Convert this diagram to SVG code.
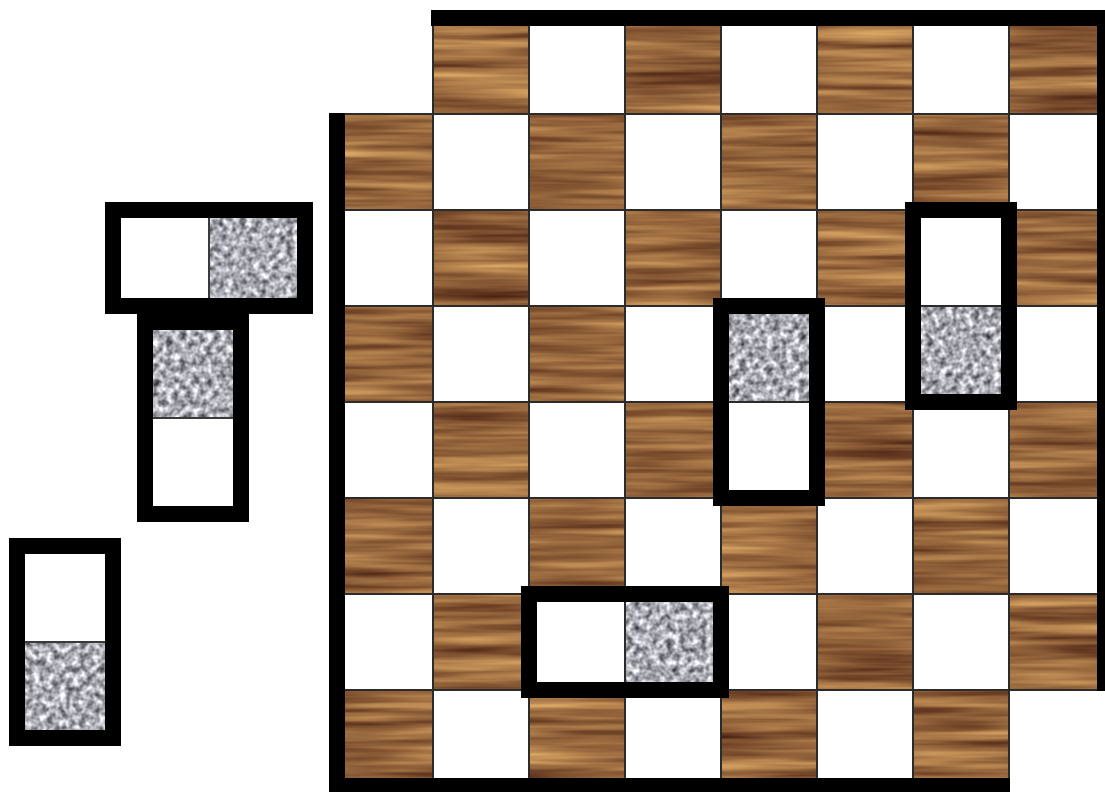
<svg xmlns="http://www.w3.org/2000/svg" width="1105" height="792" viewBox="0 0 1105 792">
<style>
.wood{fill:#000}
.granite{fill:#000}
.grid{stroke:#2b2b2b;stroke-width:2;fill:none}
.border{fill:#000}
.domino{fill:none;stroke:#000;stroke-width:16}
.divider{stroke:#3a3a3a;stroke-width:2}
</style>
<defs>
<filter id="woodTex" filterUnits="userSpaceOnUse" x="0" y="0" width="1105" height="792" color-interpolation-filters="sRGB">
<feTurbulence type="fractalNoise" baseFrequency="0.005 0.1" numOctaves="3" seed="4" result="n"/>
<feColorMatrix in="n" type="matrix" values="0.7 0 0 0 0.24  0.65 0 0 0 0.08  0.4 0 0 0 0.04  0 0 0 0 1" result="c"/>
<feComposite in="c" in2="SourceGraphic" operator="in"/>
</filter>
<filter id="graniteTex" filterUnits="userSpaceOnUse" x="0" y="0" width="1105" height="792" color-interpolation-filters="sRGB">
<feTurbulence type="fractalNoise" baseFrequency="0.15" numOctaves="2" seed="9" result="n"/>
<feColorMatrix in="n" type="matrix" values="1.2 0 0 0 0.07  1.2 0 0 0 0.07  1.2 0 0 0 0.1  0 0 0 0 1" result="c"/>
<feComposite in="c" in2="SourceGraphic" operator="in"/>
</filter>
</defs>
<rect width="1105" height="792" fill="#fff"/>

<g id="board">
<g id="wood-cells" filter="url(#woodTex)">
<rect class="wood" x="433" y="18" width="96" height="96"/>
<rect class="wood" x="625" y="18" width="96" height="96"/>
<rect class="wood" x="817" y="18" width="96" height="96"/>
<rect class="wood" x="1009" y="18" width="96" height="96"/>
<rect class="wood" x="337" y="114" width="96" height="96"/>
<rect class="wood" x="529" y="114" width="96" height="96"/>
<rect class="wood" x="721" y="114" width="96" height="96"/>
<rect class="wood" x="913" y="114" width="96" height="96"/>
<rect class="wood" x="433" y="210" width="96" height="96"/>
<rect class="wood" x="625" y="210" width="96" height="96"/>
<rect class="wood" x="817" y="210" width="96" height="96"/>
<rect class="wood" x="1009" y="210" width="96" height="96"/>
<rect class="wood" x="337" y="306" width="96" height="96"/>
<rect class="wood" x="529" y="306" width="96" height="96"/>
<rect class="wood" x="433" y="402" width="96" height="96"/>
<rect class="wood" x="625" y="402" width="96" height="96"/>
<rect class="wood" x="817" y="402" width="96" height="96"/>
<rect class="wood" x="1009" y="402" width="96" height="96"/>
<rect class="wood" x="337" y="498" width="96" height="96"/>
<rect class="wood" x="529" y="498" width="96" height="96"/>
<rect class="wood" x="721" y="498" width="96" height="96"/>
<rect class="wood" x="913" y="498" width="96" height="96"/>
<rect class="wood" x="433" y="594" width="96" height="96"/>
<rect class="wood" x="817" y="594" width="96" height="96"/>
<rect class="wood" x="1009" y="594" width="96" height="96"/>
<rect class="wood" x="337" y="690" width="96" height="96"/>
<rect class="wood" x="529" y="690" width="96" height="96"/>
<rect class="wood" x="721" y="690" width="96" height="96"/>
<rect class="wood" x="913" y="690" width="96" height="96"/>
</g>
<g id="granite-cells" filter="url(#graniteTex)">
<rect class="granite" x="721" y="306" width="96" height="96"/>
<rect class="granite" x="913" y="306" width="96" height="96"/>
<rect class="granite" x="625" y="594" width="96" height="96"/>
<rect class="granite" x="209" y="210" width="96" height="96"/>
<rect class="granite" x="145" y="322" width="96" height="96"/>
<rect class="granite" x="17" y="642" width="96" height="96"/>
</g>
<path class="grid" d="M337 114H1105M337 210H1105M337 306H1105M337 402H1105M337 498H1105M337 594H1105M337 690H1105M433 18V786M529 18V786M625 18V786M721 18V786M817 18V786M913 18V786M1009 18V786"/>
<g id="board-border">
<rect class="border" x="431" y="10" width="682" height="16"/>
<rect class="border" x="1097" y="10" width="16" height="681"/>
<rect class="border" x="329" y="113" width="16" height="681"/>
<rect class="border" x="329" y="778" width="681" height="16"/>
</g>
</g>

<g id="domino-board-a">
<rect class="domino" x="721" y="306" width="96" height="192"/>
</g>
<g id="domino-board-b">
<rect class="domino" x="913" y="210" width="96" height="192"/>
</g>
<g id="domino-board-c">
<rect class="domino" x="529" y="594" width="192" height="96"/>
</g>
<g id="domino-left-1">
<line class="divider" x1="209" y1="210" x2="209" y2="306"/>
<rect class="domino" x="113" y="210" width="192" height="96"/>
</g>
<g id="domino-left-2">
<line class="divider" x1="145" y1="418" x2="241" y2="418"/>
<rect class="domino" x="145" y="322" width="96" height="192"/>
</g>
<g id="domino-left-3">
<line class="divider" x1="17" y1="642" x2="113" y2="642"/>
<rect class="domino" x="17" y="546" width="96" height="192"/>
</g>
</svg>
